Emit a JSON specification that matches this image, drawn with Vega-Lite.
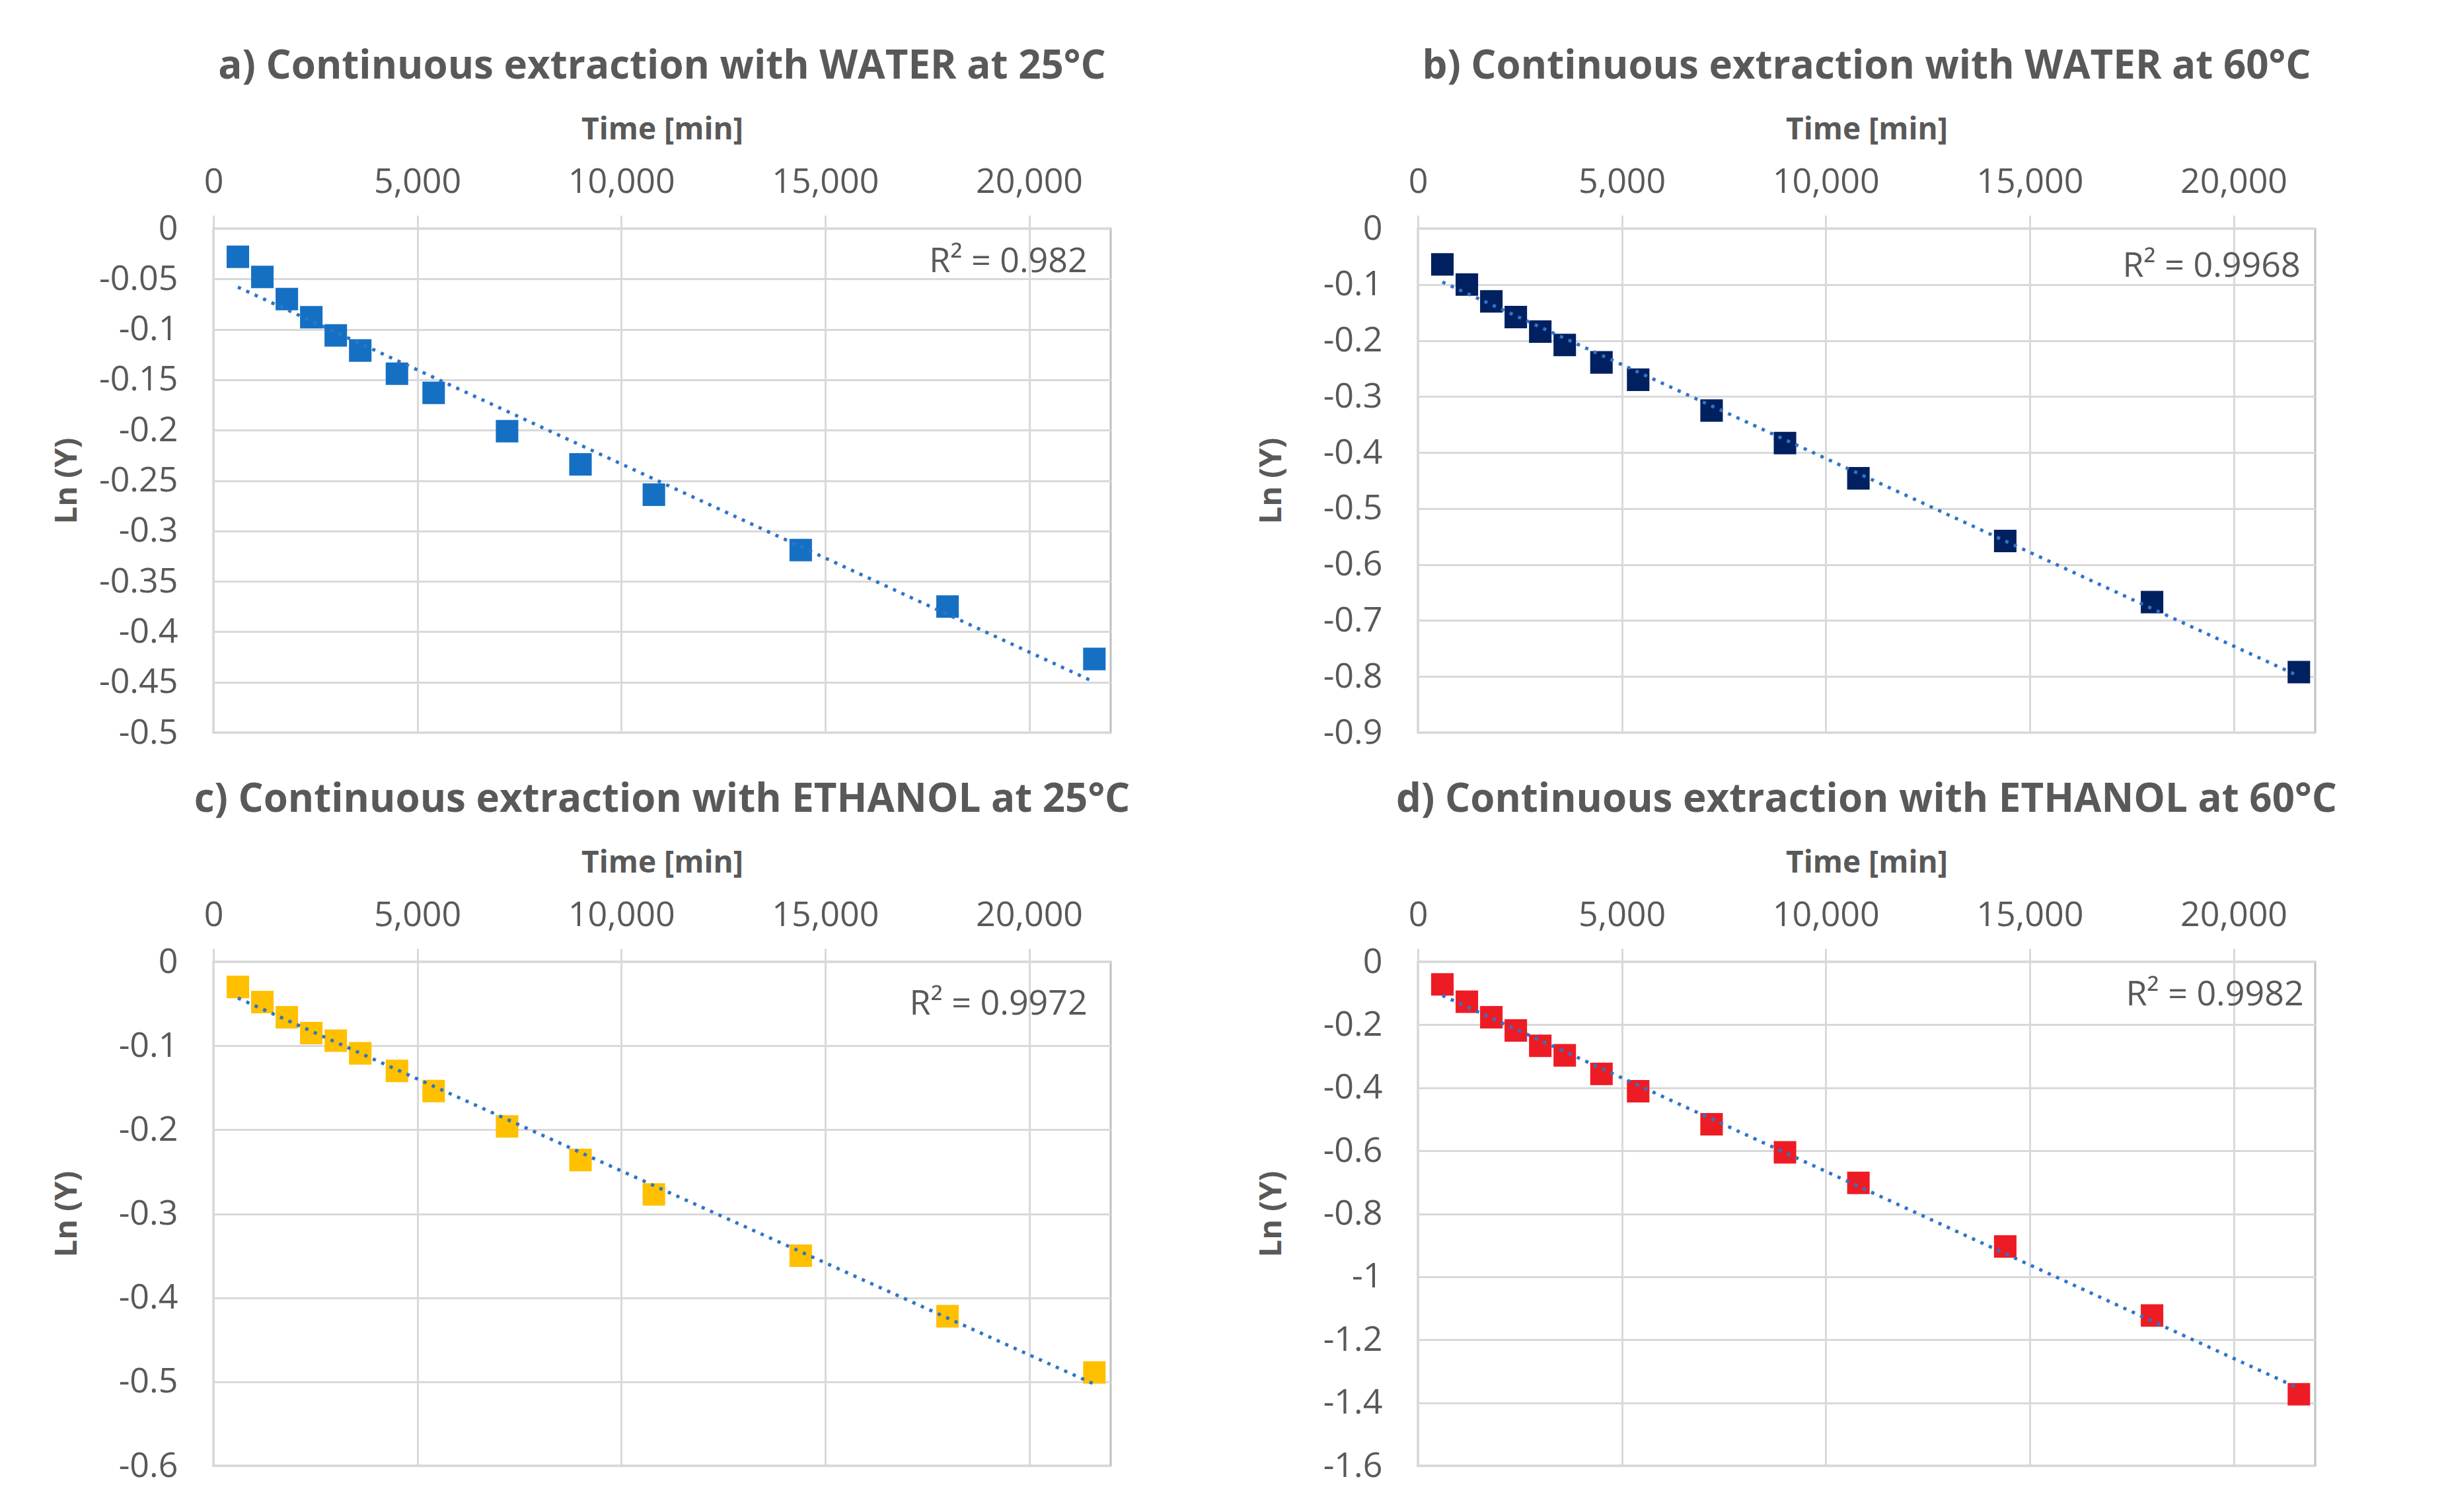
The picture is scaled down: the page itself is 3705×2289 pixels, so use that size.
{
  "$schema": "https://vega.github.io/schema/vega-lite/v6.json",
  "background": "white",
  "padding": {"left": 75, "top": 69, "right": 5, "bottom": 5},
  "bounds": "flush",
  "columns": 2,
  "spacing": {"row": 347, "column": 465},
  "datasets": {
    "pts": [
      {"panel": "a", "t": 600, "lny": -0.028}, {"panel": "a", "t": 1200, "lny": -0.048}, {"panel": "a", "t": 1800, "lny": -0.070}, {"panel": "a", "t": 2400, "lny": -0.088}, {"panel": "a", "t": 3000, "lny": -0.106}, {"panel": "a", "t": 3600, "lny": -0.121}, {"panel": "a", "t": 4500, "lny": -0.144}, {"panel": "a", "t": 5400, "lny": -0.163}, {"panel": "a", "t": 7200, "lny": -0.201}, {"panel": "a", "t": 9000, "lny": -0.234}, {"panel": "a", "t": 10800, "lny": -0.264}, {"panel": "a", "t": 14400, "lny": -0.319}, {"panel": "a", "t": 18000, "lny": -0.375}, {"panel": "a", "t": 21600, "lny": -0.427},
      {"panel": "b", "t": 600, "lny": -0.064}, {"panel": "b", "t": 1200, "lny": -0.100}, {"panel": "b", "t": 1800, "lny": -0.130}, {"panel": "b", "t": 2400, "lny": -0.158}, {"panel": "b", "t": 3000, "lny": -0.184}, {"panel": "b", "t": 3600, "lny": -0.208}, {"panel": "b", "t": 4500, "lny": -0.239}, {"panel": "b", "t": 5400, "lny": -0.270}, {"panel": "b", "t": 7200, "lny": -0.325}, {"panel": "b", "t": 9000, "lny": -0.383}, {"panel": "b", "t": 10800, "lny": -0.446}, {"panel": "b", "t": 14400, "lny": -0.558}, {"panel": "b", "t": 18000, "lny": -0.667}, {"panel": "b", "t": 21600, "lny": -0.792},
      {"panel": "c", "t": 600, "lny": -0.030}, {"panel": "c", "t": 1200, "lny": -0.048}, {"panel": "c", "t": 1800, "lny": -0.066}, {"panel": "c", "t": 2400, "lny": -0.085}, {"panel": "c", "t": 3000, "lny": -0.094}, {"panel": "c", "t": 3600, "lny": -0.109}, {"panel": "c", "t": 4500, "lny": -0.130}, {"panel": "c", "t": 5400, "lny": -0.154}, {"panel": "c", "t": 7200, "lny": -0.196}, {"panel": "c", "t": 9000, "lny": -0.236}, {"panel": "c", "t": 10800, "lny": -0.277}, {"panel": "c", "t": 14400, "lny": -0.350}, {"panel": "c", "t": 18000, "lny": -0.422}, {"panel": "c", "t": 21600, "lny": -0.489},
      {"panel": "d", "t": 600, "lny": -0.072}, {"panel": "d", "t": 1200, "lny": -0.127}, {"panel": "d", "t": 1800, "lny": -0.176}, {"panel": "d", "t": 2400, "lny": -0.218}, {"panel": "d", "t": 3000, "lny": -0.267}, {"panel": "d", "t": 3600, "lny": -0.297}, {"panel": "d", "t": 4500, "lny": -0.356}, {"panel": "d", "t": 5400, "lny": -0.411}, {"panel": "d", "t": 7200, "lny": -0.516}, {"panel": "d", "t": 9000, "lny": -0.605}, {"panel": "d", "t": 10800, "lny": -0.702}, {"panel": "d", "t": 14400, "lny": -0.904}, {"panel": "d", "t": 18000, "lny": -1.123}, {"panel": "d", "t": 21600, "lny": -1.373}
    ],
    "labels": [
      {"panel": "a", "label": "R² = 0.982"},
      {"panel": "b", "label": "R² = 0.9968"},
      {"panel": "c", "label": "R² = 0.9972"},
      {"panel": "d", "label": "R² = 0.9982"}
    ]
  },
  "concat": [
    {
      "width": 1358, "height": 763,
      "title": "a) Continuous extraction with WATER at 25°C",
      "layer": [
        {
          "data": {"name": "pts"},
          "transform": [{"filter": "datum.panel == 'a'"}],
          "mark": {"type": "square", "size": 1160, "color": "#1570C4", "opacity": 1},
          "encoding": {
            "x": {"field": "t", "type": "quantitative", "scale": {"domain": [0, 22000], "nice": false},
              "axis": {"orient": "top", "title": "Time [min]", "values": [0, 5000, 10000, 15000, 20000], "format": ",d", "tickSize": 20, "tickWidth": 3, "tickColor": "#D9D9D9", "labelPadding": 24, "titlePadding": 29, "labelFlush": false}},
            "y": {"field": "lny", "type": "quantitative", "scale": {"domain": [-0.5, 0], "nice": false},
              "axis": {"title": "Ln (Y)", "values": [0, -0.05, -0.1, -0.15, -0.2, -0.25, -0.3, -0.35, -0.4, -0.45, -0.5], "labelExpr": "datum.value == 0 ? '0' : '-' + format(abs(datum.value), '~g')", "ticks": false, "tickSize": 0, "labelPadding": 54, "minExtent": 174, "maxExtent": 174, "titlePadding": 24, "titleFontSize": 47, "labelFlush": false}}
          }
        },
        {
          "data": {"name": "pts"},
          "transform": [{"filter": "datum.panel == 'a'"}, {"regression": "lny", "on": "t"}],
          "mark": {"type": "line", "color": "#2E74C8", "strokeWidth": 5, "strokeDash": [5, 9]},
          "encoding": {"x": {"field": "t", "type": "quantitative"}, "y": {"field": "lny", "type": "quantitative"}}
        },
        {
          "data": {"name": "labels"},
          "transform": [{"filter": "datum.panel == 'a'"}],
          "mark": {"type": "text", "align": "right", "baseline": "middle", "fontSize": 52, "color": "#595959", "font": "Open Sans"},
          "encoding": {"x": {"datum": 21430, "type": "quantitative"}, "y": {"datum": -0.033, "type": "quantitative"}, "text": {"field": "label"}}
        }
      ]
    },
    {
      "width": 1358, "height": 763,
      "title": "b) Continuous extraction with WATER at 60°C",
      "layer": [
        {
          "data": {"name": "pts"},
          "transform": [{"filter": "datum.panel == 'b'"}],
          "mark": {"type": "square", "size": 1160, "color": "#002060", "opacity": 1},
          "encoding": {
            "x": {"field": "t", "type": "quantitative", "scale": {"domain": [0, 22000], "nice": false},
              "axis": {"orient": "top", "title": "Time [min]", "values": [0, 5000, 10000, 15000, 20000], "format": ",d", "tickSize": 20, "tickWidth": 3, "tickColor": "#D9D9D9", "labelPadding": 24, "titlePadding": 29, "labelFlush": false}},
            "y": {"field": "lny", "type": "quantitative", "scale": {"domain": [-0.9, 0], "nice": false},
              "axis": {"title": "Ln (Y)", "values": [0, -0.1, -0.2, -0.3, -0.4, -0.5, -0.6, -0.7, -0.8, -0.9], "labelExpr": "datum.value == 0 ? '0' : '-' + format(abs(datum.value), '~g')", "ticks": false, "tickSize": 0, "labelPadding": 54, "minExtent": 174, "maxExtent": 174, "titlePadding": 24, "titleFontSize": 47, "labelFlush": false}}
          }
        },
        {
          "data": {"name": "pts"},
          "transform": [{"filter": "datum.panel == 'b'"}, {"regression": "lny", "on": "t"}],
          "mark": {"type": "line", "color": "#2E74C8", "strokeWidth": 5, "strokeDash": [5, 9]},
          "encoding": {"x": {"field": "t", "type": "quantitative"}, "y": {"field": "lny", "type": "quantitative"}}
        },
        {
          "data": {"name": "labels"},
          "transform": [{"filter": "datum.panel == 'b'"}],
          "mark": {"type": "text", "align": "right", "baseline": "middle", "fontSize": 52, "color": "#595959", "font": "Open Sans"},
          "encoding": {"x": {"datum": 21640, "type": "quantitative"}, "y": {"datum": -0.067, "type": "quantitative"}, "text": {"field": "label"}}
        }
      ]
    },
    {
      "width": 1358, "height": 763,
      "title": "c) Continuous extraction with ETHANOL at 25°C",
      "layer": [
        {
          "data": {"name": "pts"},
          "transform": [{"filter": "datum.panel == 'c'"}],
          "mark": {"type": "square", "size": 1160, "color": "#FFC000", "opacity": 1},
          "encoding": {
            "x": {"field": "t", "type": "quantitative", "scale": {"domain": [0, 22000], "nice": false},
              "axis": {"orient": "top", "title": "Time [min]", "values": [0, 5000, 10000, 15000, 20000], "format": ",d", "tickSize": 20, "tickWidth": 3, "tickColor": "#D9D9D9", "labelPadding": 24, "titlePadding": 29, "labelFlush": false}},
            "y": {"field": "lny", "type": "quantitative", "scale": {"domain": [-0.6, 0], "nice": false},
              "axis": {"title": "Ln (Y)", "values": [0, -0.1, -0.2, -0.3, -0.4, -0.5, -0.6], "labelExpr": "datum.value == 0 ? '0' : '-' + format(abs(datum.value), '~g')", "ticks": false, "tickSize": 0, "labelPadding": 54, "minExtent": 174, "maxExtent": 174, "titlePadding": 24, "titleFontSize": 47, "labelFlush": false}}
          }
        },
        {
          "data": {"name": "pts"},
          "transform": [{"filter": "datum.panel == 'c'"}, {"regression": "lny", "on": "t"}],
          "mark": {"type": "line", "color": "#2E74C8", "strokeWidth": 5, "strokeDash": [5, 9]},
          "encoding": {"x": {"field": "t", "type": "quantitative"}, "y": {"field": "lny", "type": "quantitative"}}
        },
        {
          "data": {"name": "labels"},
          "transform": [{"filter": "datum.panel == 'c'"}],
          "mark": {"type": "text", "align": "right", "baseline": "middle", "fontSize": 52, "color": "#595959", "font": "Open Sans"},
          "encoding": {"x": {"datum": 21430, "type": "quantitative"}, "y": {"datum": -0.05, "type": "quantitative"}, "text": {"field": "label"}}
        }
      ]
    },
    {
      "width": 1358, "height": 763,
      "title": "d) Continuous extraction with ETHANOL at 60°C",
      "layer": [
        {
          "data": {"name": "pts"},
          "transform": [{"filter": "datum.panel == 'd'"}],
          "mark": {"type": "square", "size": 1160, "color": "#ED1C24", "opacity": 1},
          "encoding": {
            "x": {"field": "t", "type": "quantitative", "scale": {"domain": [0, 22000], "nice": false},
              "axis": {"orient": "top", "title": "Time [min]", "values": [0, 5000, 10000, 15000, 20000], "format": ",d", "tickSize": 20, "tickWidth": 3, "tickColor": "#D9D9D9", "labelPadding": 24, "titlePadding": 29, "labelFlush": false}},
            "y": {"field": "lny", "type": "quantitative", "scale": {"domain": [-1.6, 0], "nice": false},
              "axis": {"title": "Ln (Y)", "values": [0, -0.2, -0.4, -0.6, -0.8, -1, -1.2, -1.4, -1.6], "labelExpr": "datum.value == 0 ? '0' : '-' + format(abs(datum.value), '~g')", "ticks": false, "tickSize": 0, "labelPadding": 54, "minExtent": 174, "maxExtent": 174, "titlePadding": 24, "titleFontSize": 47, "labelFlush": false}}
          }
        },
        {
          "data": {"name": "pts"},
          "transform": [{"filter": "datum.panel == 'd'"}, {"regression": "lny", "on": "t"}],
          "mark": {"type": "line", "color": "#2E74C8", "strokeWidth": 5, "strokeDash": [5, 9]},
          "encoding": {"x": {"field": "t", "type": "quantitative"}, "y": {"field": "lny", "type": "quantitative"}}
        },
        {
          "data": {"name": "labels"},
          "transform": [{"filter": "datum.panel == 'd'"}],
          "mark": {"type": "text", "align": "right", "baseline": "middle", "fontSize": 52, "color": "#595959", "font": "Open Sans"},
          "encoding": {"x": {"datum": 21720, "type": "quantitative"}, "y": {"datum": -0.105, "type": "quantitative"}, "text": {"field": "label"}}
        }
      ]
    }
  ],
  "config": {
    "font": "Open Sans",
    "view": {"stroke": "#BFBFBF", "strokeWidth": 3},
    "axis": {
      "labelFont": "Open Sans", "labelFontSize": 52, "labelColor": "#595959",
      "titleFont": "Open Sans", "titleFontSize": 46, "titleFontWeight": "bold", "titleColor": "#595959",
      "grid": true, "gridColor": "#D9D9D9", "gridWidth": 3, "domain": false
    },
    "title": {"font": "Open Sans", "fontSize": 60, "fontWeight": "bold", "color": "#595959", "offset": 41}
  }
}
